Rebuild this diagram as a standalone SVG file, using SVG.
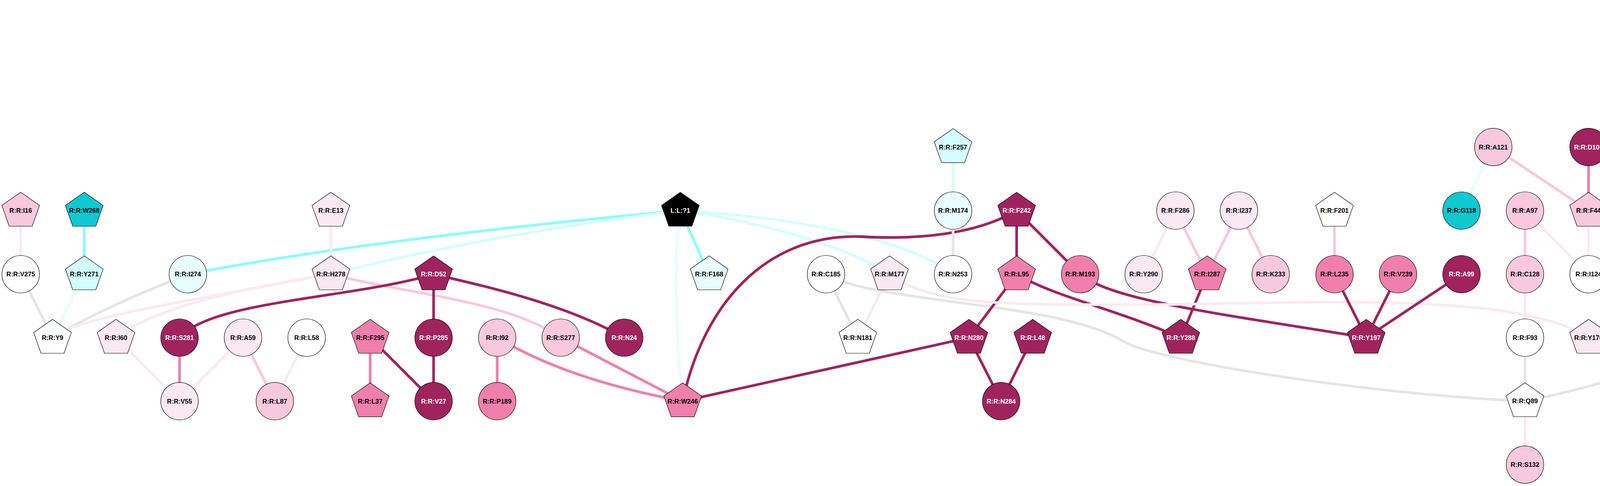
<svg xmlns="http://www.w3.org/2000/svg" xmlns:xlink="http://www.w3.org/1999/xlink" width="5096" height="1245" viewBox="0 0 5096 1245">
<style>
.e{fill:none;stroke-width:6.8;stroke-linecap:butt}
.dk{stroke:#a0235e}.md{stroke:#f07fab}.lt{stroke:#f8c8dc}.vl{stroke:#fbe9f1}
.gy{stroke:#e5e5e5}.cy{stroke:#8bfcfc}.lc{stroke:#d4fdfe}.vc{stroke:#e8fdfd}
.n{stroke:#000;stroke-width:1.2}
.F-dk{fill:#a0235e}.F-md{fill:#f07fab}.F-lt{fill:#f8c8dc}.F-vl{fill:#fbe9f1}
.F-wh{fill:#ffffff}.F-tl{fill:#10c8d0}.F-lc{fill:#d4fdfe}.F-vc{fill:#e8fdfd}.F-bk{fill:#000000}
text{font-family:"Liberation Sans",Arial,Helvetica,sans-serif;font-weight:bold;font-size:16.5px;text-anchor:middle;fill:#000}
text.w{fill:#fff}
</style>
<defs>
<polygon id="pent" points="0,-47 48.3,-13.3 29.5,40 -29.5,40 -48.3,-13.3"/>
</defs>
<rect width="5096" height="1245" fill="#fff"/>
<g id="edges">
<path class="e vl" d="M53,539.5 L53,702.5"/>
<path class="e cy" d="M215.7,539.5 L215.7,702.5"/>
<path class="e gy" d="M53,702.5 L134.4,865"/>
<path class="e vc" d="M215.7,702.5 L134.4,865"/>
<path class="e gy" d="M481,702.5 C400,735 260,790 134.4,865"/>
<path class="e cy" d="M481,702.5 Q950,612 1741.7,539.5"/>
<path class="e vl" d="M847,539.5 L847,702.5"/>
<path class="e vl" d="M134.4,865 C200,815 400,785 847,702.5"/>
<path class="e vl" d="M297,865 C380,800 550,750 847,702.5"/>
<path class="e lc" d="M847,702.5 Q1250,600 1741.7,539.5"/>
<path class="e lt" d="M847,702.5 C1050,755 1300,770 1435.4,865"/>
<path class="e dk" d="M459.6,865 C540,770 900,765 1110,702.5"/>
<path class="e dk" d="M1110,702.5 L1110,865"/>
<path class="e dk" d="M1110,702.5 C1250,735 1450,780 1598,865"/>
<path class="e dk" d="M1110,865 L1110,1027.7"/>
<path class="e md" d="M947.6,865 L947.6,1027.7"/>
<path class="e dk" d="M947.6,865 L1110,1027.7"/>
<path class="e md" d="M1272.8,865 L1272.8,1027.7"/>
<path class="e md" d="M1272.8,865 C1400,940 1550,990 1747.7,1027.7"/>
<path class="e md" d="M1435.4,865 L1747.7,1027.7"/>
<path class="e md" d="M459.6,865 L459.6,1027.7"/>
<path class="e vl" d="M297,865 L459.6,1027.7"/>
<path class="e vl" d="M622,865 L459.6,1027.7"/>
<path class="e lt" d="M622,865 L703.5,1027.7"/>
<path class="e vl" d="M785,865 L703.5,1027.7"/>
<path class="e cy" d="M1741.7,539.5 L1815.4,702.5"/>
<path class="e vc" d="M1741.7,539.5 C1725,650 1728,850 1747.7,1027.7"/>
<path class="e lc" d="M1741.7,539.5 C1900,560 2150,620 2277.2,702.5"/>
<path class="e lc" d="M1741.7,539.5 C2000,555 2300,600 2439.8,702.5"/>
<path class="e dk" d="M1747.7,1027.7 C1800,780 1960,600 2200,606 C2350,615 2500,600 2602.6,539.5"/>
<path class="e dk" d="M1747.7,1027.7 L2480.5,865"/>
<path class="e lc" d="M2439.8,376.6 L2439.8,539.5"/>
<path class="e gy" d="M2439.8,539.5 L2439.8,702.5"/>
<path class="e gy" d="M2114.6,702.5 L2196,865"/>
<path class="e vl" d="M2277.2,702.5 L2196,865"/>
<path class="e gy" d="M2114.6,702.5 C2250,780 2700,770 2875,874 C2960,925 3500,1010 3904,1027.5"/>
<path class="e dk" d="M2480.5,865 L2602.6,702.5"/>
<path class="e dk" d="M2480.5,865 L2563,1027.7"/>
<path class="e dk" d="M2602.6,539.5 L2602.6,702.5"/>
<path class="e dk" d="M2602.6,539.5 L2765.2,702.5"/>
<path class="e dk" d="M2602.6,702.5 C2700,760 2850,790 3023,865"/>
<path class="e dk" d="M2765.2,702.5 C2850,770 3100,800 3497.6,865"/>
<path class="e dk" d="M3090.4,702.5 L3023,865"/>
<path class="e vl" d="M3009,539.5 L2927.8,702.5"/>
<path class="e lt" d="M3009,539.5 L3090.4,702.5"/>
<path class="e lt" d="M3171.7,539.5 L3090.4,702.5"/>
<path class="e lt" d="M3171.7,539.5 L3253,702.5"/>
<path class="e dk" d="M2643.8,865 L2563,1027.7"/>
<path class="e vl" d="M2277.2,702.5 C2400,790 2600,780 3000,780 C3500,770 3900,760 4066.7,865"/>
<path class="e lt" d="M3416.3,539.5 L3416.3,702.5"/>
<path class="e dk" d="M3416.3,702.5 L3497.6,865"/>
<path class="e dk" d="M3578.9,702.5 L3497.6,865"/>
<path class="e dk" d="M3741.5,702.5 L3497.6,865"/>
<path class="e vc" d="M3822.8,376.6 L3741.5,539.5"/>
<path class="e lt" d="M3822.8,376.6 L4066.7,539.5"/>
<path class="e md" d="M4066.7,376.6 L4066.7,539.5"/>
<path class="e md" d="M4066.7,376.6 L4229.3,539.5"/>
<path class="e lt" d="M4229.3,376.6 L4229.3,539.5"/>
<path class="e lt" d="M3904,539.5 L3904,702.5"/>
<path class="e vl" d="M3904,539.5 L4066.7,702.5"/>
<path class="e vl" d="M4066.7,539.5 L4066.7,702.5"/>
<path class="e vl" d="M3904,702.5 L3904,865"/>
<path class="e gy" d="M3904,865 L3904,1027.5"/>
<path class="e vl" d="M3904,1027.5 L3904,1190.3"/>
<path class="e vl" d="M4229.3,702.5 L4066.7,865"/>
<path class="e vl" d="M4229.3,702.5 L4229.3,865"/>
<path class="e gy" d="M4635.8,539.5 C4500,570 4300,640 4229.3,702.5"/>
<path class="e gy" d="M4392,702.5 C4300,760 4150,800 4066.7,865"/>
<path class="e gy" d="M4392,702.5 L4229.3,865"/>
<path class="e gy" d="M4392,865 C4300,920 4100,990 3904,1027.5"/>
<path class="e vc" d="M4392,702.5 L4392,865"/>
<path class="e vc" d="M4392,865 L4392,1027.5"/>
<path class="e vc" d="M4554.4,702.5 L4595.4,865"/>
<path class="e vl" d="M4717.3,702.5 L4595.4,865"/>
<path class="e vl" d="M4635.8,539.5 L4717.3,702.5"/>
<path class="e gy" d="M4717.3,702.5 L4839.3,865"/>
<path class="e lt" d="M4879.8,702.5 L4839.3,865"/>
<path class="e dk" d="M4961.3,539.5 L4879.8,702.5"/>
<path class="e md" d="M4961.3,539.5 L5042.8,702.5"/>
<path class="e vl" d="M5042.8,702.5 L5042.8,865"/>
<path class="e gy" d="M4229.3,51.5 L4229.3,214"/>
<path class="e vl" d="M4229.3,214 L4229.3,376.6"/>
</g>
<g id="I16"><use href="#pent" x="53" y="539.5" class="n F-lt"/><text x="53" y="539.5" dy="5.9">R:R:I16</text></g>
<g id="W268"><use href="#pent" x="215.7" y="539.5" class="n F-tl"/><text x="215.7" y="539.5" dy="5.9">R:R:W268</text></g>
<g id="V275"><circle cx="53" cy="702.5" r="48" class="n F-wh"/><text x="53" y="702.5" dy="5.9">R:R:V275</text></g>
<g id="Y271"><use href="#pent" x="215.7" y="702.5" class="n F-lc"/><text x="215.7" y="702.5" dy="5.9">R:R:Y271</text></g>
<g id="I274"><circle cx="481" cy="702.5" r="48" class="n F-vc"/><text x="481" y="702.5" dy="5.9">R:R:I274</text></g>
<g id="E13"><use href="#pent" x="847" y="539.5" class="n F-vl"/><text x="847" y="539.5" dy="5.9">R:R:E13</text></g>
<g id="H278"><use href="#pent" x="847" y="702.5" class="n F-vl"/><text x="847" y="702.5" dy="5.9">R:R:H278</text></g>
<g id="Y9"><use href="#pent" x="134.4" y="865" class="n F-wh"/><text x="134.4" y="865" dy="5.9">R:R:Y9</text></g>
<g id="I60"><use href="#pent" x="297" y="865" class="n F-vl"/><text x="297" y="865" dy="5.9">R:R:I60</text></g>
<g id="S281"><circle cx="459.6" cy="865" r="48" class="n F-dk"/><text x="459.6" y="865" dy="5.9" class="w">R:R:S281</text></g>
<g id="A59"><circle cx="622" cy="865" r="48" class="n F-vl"/><text x="622" y="865" dy="5.9">R:R:A59</text></g>
<g id="L58"><circle cx="785" cy="865" r="48" class="n F-wh"/><text x="785" y="865" dy="5.9">R:R:L58</text></g>
<g id="V55"><circle cx="459.6" cy="1027.7" r="48" class="n F-vl"/><text x="459.6" y="1027.7" dy="5.9">R:R:V55</text></g>
<g id="L87"><circle cx="703.5" cy="1027.7" r="48" class="n F-lt"/><text x="703.5" y="1027.7" dy="5.9">R:R:L87</text></g>
<g id="D52"><use href="#pent" x="1110" y="702.5" class="n F-dk"/><text x="1110" y="702.5" dy="5.9" class="w">R:R:D52</text></g>
<g id="F295"><use href="#pent" x="947.6" y="865" class="n F-md"/><text x="947.6" y="865" dy="5.9">R:R:F295</text></g>
<g id="L37"><use href="#pent" x="947.6" y="1027.7" class="n F-md"/><text x="947.6" y="1027.7" dy="5.9">R:R:L37</text></g>
<g id="P285"><circle cx="1110" cy="865" r="48" class="n F-dk"/><text x="1110" y="865" dy="5.9" class="w">R:R:P285</text></g>
<g id="V27"><circle cx="1110" cy="1027.7" r="48" class="n F-dk"/><text x="1110" y="1027.7" dy="5.9" class="w">R:R:V27</text></g>
<g id="I92"><circle cx="1272.8" cy="865" r="48" class="n F-lt"/><text x="1272.8" y="865" dy="5.9">R:R:I92</text></g>
<g id="P189"><circle cx="1272.8" cy="1027.7" r="48" class="n F-md"/><text x="1272.8" y="1027.7" dy="5.9">R:R:P189</text></g>
<g id="S277"><circle cx="1435.4" cy="865" r="48" class="n F-lt"/><text x="1435.4" y="865" dy="5.9">R:R:S277</text></g>
<g id="N24"><circle cx="1598" cy="865" r="48" class="n F-dk"/><text x="1598" y="865" dy="5.9" class="w">R:R:N24</text></g>
<g id="LL1"><use href="#pent" x="1741.7" y="539.5" class="n F-bk"/><text x="1741.7" y="539.5" dy="5.9" class="w">L:L:?1</text></g>
<g id="W246"><use href="#pent" x="1747.7" y="1027.7" class="n F-md"/><text x="1747.7" y="1027.7" dy="5.9">R:R:W246</text></g>
<g id="F168"><use href="#pent" x="1815.4" y="702.5" class="n F-vc"/><text x="1815.4" y="702.5" dy="5.9">R:R:F168</text></g>
<g id="F257"><use href="#pent" x="2439.8" y="376.6" class="n F-lc"/><text x="2439.8" y="376.6" dy="5.9">R:R:F257</text></g>
<g id="M174"><circle cx="2439.8" cy="539.5" r="48" class="n F-vc"/><text x="2439.8" y="539.5" dy="5.9">R:R:M174</text></g>
<g id="C185"><circle cx="2114.6" cy="702.5" r="48" class="n F-wh"/><text x="2114.6" y="702.5" dy="5.9">R:R:C185</text></g>
<g id="M177"><use href="#pent" x="2277.2" y="702.5" class="n F-vl"/><text x="2277.2" y="702.5" dy="5.9">R:R:M177</text></g>
<g id="N253"><circle cx="2439.8" cy="702.5" r="48" class="n F-wh"/><text x="2439.8" y="702.5" dy="5.9">R:R:N253</text></g>
<g id="N181"><use href="#pent" x="2196" y="865" class="n F-wh"/><text x="2196" y="865" dy="5.9">R:R:N181</text></g>
<g id="N280"><use href="#pent" x="2480.5" y="865" class="n F-dk"/><text x="2480.5" y="865" dy="5.9" class="w">R:R:N280</text></g>
<g id="N284"><circle cx="2563" cy="1027.7" r="48" class="n F-dk"/><text x="2563" y="1027.7" dy="5.9" class="w">R:R:N284</text></g>
<g id="F242"><use href="#pent" x="2602.6" y="539.5" class="n F-dk"/><text x="2602.6" y="539.5" dy="5.9" class="w">R:R:F242</text></g>
<g id="L95"><use href="#pent" x="2602.6" y="702.5" class="n F-md"/><text x="2602.6" y="702.5" dy="5.9">R:R:L95</text></g>
<g id="M193"><circle cx="2765.2" cy="702.5" r="48" class="n F-md"/><text x="2765.2" y="702.5" dy="5.9">R:R:M193</text></g>
<g id="L48"><use href="#pent" x="2643.8" y="865" class="n F-dk"/><text x="2643.8" y="865" dy="5.9" class="w">R:R:L48</text></g>
<g id="Y290"><circle cx="2927.8" cy="702.5" r="48" class="n F-vl"/><text x="2927.8" y="702.5" dy="5.9">R:R:Y290</text></g>
<g id="F286"><circle cx="3009" cy="539.5" r="48" class="n F-vl"/><text x="3009" y="539.5" dy="5.9">R:R:F286</text></g>
<g id="I287"><use href="#pent" x="3090.4" y="702.5" class="n F-md"/><text x="3090.4" y="702.5" dy="5.9">R:R:I287</text></g>
<g id="I237"><circle cx="3171.7" cy="539.5" r="48" class="n F-vl"/><text x="3171.7" y="539.5" dy="5.9">R:R:I237</text></g>
<g id="K233"><circle cx="3253" cy="702.5" r="48" class="n F-lt"/><text x="3253" y="702.5" dy="5.9">R:R:K233</text></g>
<g id="Y288"><use href="#pent" x="3023" y="865" class="n F-dk"/><text x="3023" y="865" dy="5.9" class="w">R:R:Y288</text></g>
<g id="F201"><use href="#pent" x="3416.3" y="539.5" class="n F-wh"/><text x="3416.3" y="539.5" dy="5.9">R:R:F201</text></g>
<g id="L235"><circle cx="3416.3" cy="702.5" r="48" class="n F-md"/><text x="3416.3" y="702.5" dy="5.9">R:R:L235</text></g>
<g id="V239"><circle cx="3578.9" cy="702.5" r="48" class="n F-md"/><text x="3578.9" y="702.5" dy="5.9">R:R:V239</text></g>
<g id="G118"><circle cx="3741.5" cy="539.5" r="48" class="n F-tl"/><text x="3741.5" y="539.5" dy="5.9">R:R:G118</text></g>
<g id="A99"><circle cx="3741.5" cy="702.5" r="48" class="n F-dk"/><text x="3741.5" y="702.5" dy="5.9" class="w">R:R:A99</text></g>
<g id="Y197"><use href="#pent" x="3497.6" y="865" class="n F-dk"/><text x="3497.6" y="865" dy="5.9" class="w">R:R:Y197</text></g>
<g id="A121"><circle cx="3822.8" cy="376.6" r="48" class="n F-lt"/><text x="3822.8" y="376.6" dy="5.9">R:R:A121</text></g>
<g id="D101"><circle cx="4066.7" cy="376.6" r="48" class="n F-dk"/><text x="4066.7" y="376.6" dy="5.9" class="w">R:R:D101</text></g>
<g id="I104"><circle cx="4229.3" cy="51.5" r="48" class="n F-wh"/><text x="4229.3" y="51.5" dy="5.9">R:R:I104</text></g>
<g id="L115"><circle cx="4229.3" cy="214" r="48" class="n F-vc"/><text x="4229.3" y="214" dy="5.9">R:R:L115</text></g>
<g id="V116"><circle cx="4229.3" cy="376.6" r="48" class="n F-lt"/><text x="4229.3" y="376.6" dy="5.9">R:R:V116</text></g>
<g id="A97"><circle cx="3904" cy="539.5" r="48" class="n F-lt"/><text x="3904" y="539.5" dy="5.9">R:R:A97</text></g>
<g id="F44"><use href="#pent" x="4066.7" y="539.5" class="n F-lt"/><text x="4066.7" y="539.5" dy="5.9">R:R:F44</text></g>
<g id="Y112"><use href="#pent" x="4229.3" y="539.5" class="n F-lt"/><text x="4229.3" y="539.5" dy="5.9">R:R:Y112</text></g>
<g id="C128"><circle cx="3904" cy="702.5" r="48" class="n F-lt"/><text x="3904" y="702.5" dy="5.9">R:R:C128</text></g>
<g id="I124"><circle cx="4066.7" cy="702.5" r="48" class="n F-wh"/><text x="4066.7" y="702.5" dy="5.9">R:R:I124</text></g>
<g id="P139"><circle cx="4229.3" cy="702.5" r="48" class="n F-wh"/><text x="4229.3" y="702.5" dy="5.9">R:R:P139</text></g>
<g id="F93"><circle cx="3904" cy="865" r="48" class="n F-wh"/><text x="3904" y="865" dy="5.9">R:R:F93</text></g>
<g id="Y176"><use href="#pent" x="4066.7" y="865" class="n F-vl"/><text x="4066.7" y="865" dy="5.9">R:R:Y176</text></g>
<g id="T138"><circle cx="4229.3" cy="865" r="48" class="n F-vl"/><text x="4229.3" y="865" dy="5.9">R:R:T138</text></g>
<g id="Q89"><use href="#pent" x="3904" y="1027.5" class="n F-wh"/><text x="3904" y="1027.5" dy="5.9">R:R:Q89</text></g>
<g id="S132"><circle cx="3904" cy="1190.3" r="48" class="n F-lt"/><text x="3904" y="1190.3" dy="5.9">R:R:S132</text></g>
<g id="C82"><circle cx="4635.8" cy="539.5" r="48" class="n F-wh"/><text x="4635.8" y="539.5" dy="5.9">R:R:C82</text></g>
<g id="C166"><circle cx="4961.3" cy="539.5" r="48" class="n F-dk"/><text x="4961.3" y="539.5" dy="5.9" class="w">R:R:C166</text></g>
<g id="F180"><use href="#pent" x="4392" y="702.5" class="n F-vc"/><text x="4392" y="702.5" dy="5.9">R:R:F180</text></g>
<g id="L137"><circle cx="4554.4" cy="702.5" r="48" class="n F-lc"/><text x="4554.4" y="702.5" dy="5.9">R:R:L137</text></g>
<g id="L78"><use href="#pent" x="4717.3" y="702.5" class="n F-vl"/><text x="4717.3" y="702.5" dy="5.9">R:R:L78</text></g>
<g id="C77"><circle cx="4879.8" cy="702.5" r="48" class="n F-dk"/><text x="4879.8" y="702.5" dy="5.9" class="w">R:R:C77</text></g>
<g id="F70"><circle cx="5042.8" cy="702.5" r="48" class="n F-lt"/><text x="5042.8" y="702.5" dy="5.9">R:R:F70</text></g>
<g id="I135"><circle cx="4392" cy="865" r="48" class="n F-vc"/><text x="4392" y="865" dy="5.9">R:R:I135</text></g>
<g id="M140"><use href="#pent" x="4595.4" y="865" class="n F-wh"/><text x="4595.4" y="865" dy="5.9">R:R:M140</text></g>
<g id="V171"><circle cx="4839.3" cy="865" r="48" class="n F-vc"/><text x="4839.3" y="865" dy="5.9">R:R:V171</text></g>
<g id="T68"><circle cx="5042.8" cy="865" r="48" class="n F-wh"/><text x="5042.8" y="865" dy="5.9">R:R:T68</text></g>
<g id="L131"><circle cx="4392" cy="1027.5" r="48" class="n F-vc"/><text x="4392" y="1027.5" dy="5.9">R:R:L131</text></g>
</svg>
